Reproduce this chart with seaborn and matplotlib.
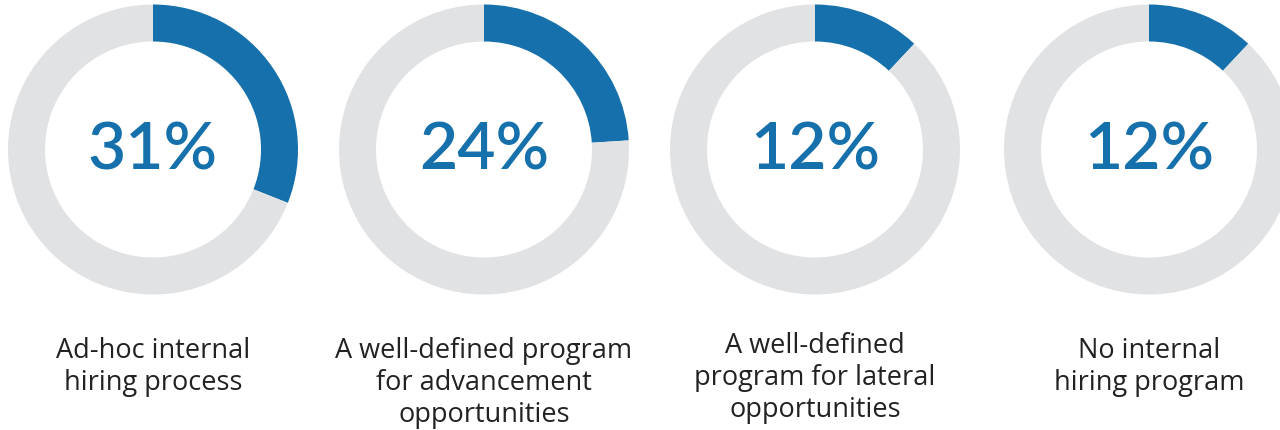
import matplotlib.pyplot as plt
import seaborn as sns

# --- data ---
categories = ["Ad-hoc internal hiring process",
              "A well-defined program for advancement opportunities",
              "A well-defined program for lateral opportunities",
              "No internal hiring program"]
shares = [31, 24, 12, 12]
label_lines = [["Ad-hoc internal", "hiring process"],
               ["A well-defined program", "for advancement", "opportunities"],
               ["A well-defined", "program for lateral", "opportunities"],
               ["No internal", "hiring program"]]

# --- style ---
sns.set_theme(style="white")
plt.rcParams['font.family'] = ['Lato', 'DejaVu Sans']
blue = "#1570ab"
gray = "#e1e2e4"
text_col = "#222222"

W, H = 1280, 431
fig = plt.figure(figsize=(12.8, 4.31), dpi=100)
ax = fig.add_axes([0, 0, 1, 1])

centers_x = [153, 484, 815, 1149]
center_y = H - 150.5
outer_r = 145
ring_w = 37
label_top = [358, 358, 353, 358]
line_gap = 32

for i, val in enumerate(shares):
    cx = centers_x[i]
    ax.pie([val, 100 - val], radius=outer_r, center=(cx, center_y),
           startangle=90, counterclock=False, colors=[blue, gray],
           wedgeprops=dict(width=ring_w, linewidth=0))
    ax.text(cx, H - 170, f"{val}%", ha="center", va="baseline",
            fontsize=47.5, color=blue, fontweight="semibold")
    for j, line in enumerate(label_lines[i]):
        ax.text(cx, H - (label_top[i] + j * line_gap), line, ha="center",
                va="baseline", fontsize=19.5, color=text_col,
                family=['Open Sans', 'DejaVu Sans'])

ax.set_xlim(0, W)
ax.set_ylim(0, H)
ax.set_aspect("equal")
ax.axis("off")

fig.savefig("out.png", dpi=100, facecolor="white")
